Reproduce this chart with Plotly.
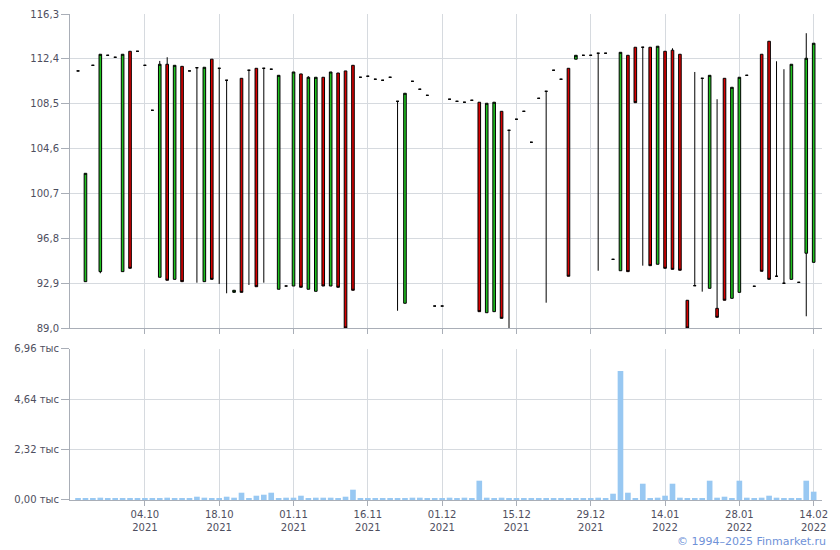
import plotly.graph_objects as go
from datetime import datetime

# ---------------- data ----------------
dates = [
    "2021-09-21", "2021-09-22", "2021-09-23", "2021-09-24", "2021-09-27", "2021-09-28", "2021-09-29", "2021-09-30",
    "2021-10-01", "2021-10-04", "2021-10-05", "2021-10-06", "2021-10-07", "2021-10-08", "2021-10-11", "2021-10-12",
    "2021-10-13", "2021-10-14", "2021-10-15", "2021-10-18", "2021-10-19", "2021-10-20", "2021-10-21", "2021-10-22",
    "2021-10-25", "2021-10-26", "2021-10-27", "2021-10-28", "2021-10-29", "2021-11-01", "2021-11-02", "2021-11-03",
    "2021-11-05", "2021-11-08", "2021-11-09", "2021-11-10", "2021-11-11", "2021-11-12", "2021-11-15", "2021-11-16",
    "2021-11-17", "2021-11-18", "2021-11-19", "2021-11-22", "2021-11-23", "2021-11-24", "2021-11-25", "2021-11-26",
    "2021-11-30", "2021-12-01", "2021-12-02", "2021-12-03", "2021-12-06", "2021-12-07", "2021-12-08", "2021-12-09",
    "2021-12-10", "2021-12-13", "2021-12-14", "2021-12-15", "2021-12-16", "2021-12-17", "2021-12-20", "2021-12-21",
    "2021-12-22", "2021-12-23", "2021-12-24", "2021-12-27", "2021-12-28", "2021-12-29", "2021-12-30", "2022-01-03",
    "2022-01-04", "2022-01-05", "2022-01-06", "2022-01-10", "2022-01-11", "2022-01-12", "2022-01-13", "2022-01-14",
    "2022-01-17", "2022-01-18", "2022-01-19", "2022-01-20", "2022-01-21", "2022-01-24", "2022-01-25", "2022-01-26",
    "2022-01-27", "2022-01-28", "2022-01-31", "2022-02-01", "2022-02-02", "2022-02-03", "2022-02-04", "2022-02-07",
    "2022-02-08", "2022-02-10", "2022-02-11", "2022-02-14",
]

open_ = [
    111.35, 93.03, 111.84, 93.90, 112.71, 112.54, 93.90, 113.06, 113.06, 111.84,
    107.93, 93.41, 111.93, 93.23, 111.75, 111.35, 111.63, 93.03, 112.37, 111.58,
    110.54, 92.10, 110.71, 111.41, 111.58, 111.58, 111.50, 92.37, 92.65, 92.65,
    111.09, 92.37, 92.19, 110.80, 92.65, 111.17, 111.35, 111.84, 110.80, 110.89,
    110.63, 110.54, 110.80, 108.71, 91.15, 110.45, 109.76, 109.23, 90.91, 90.91,
    108.89, 108.71, 108.63, 108.80, 108.63, 90.33, 90.42, 107.84, 106.19, 107.15,
    107.84, 105.15, 108.97, 109.58, 111.41, 110.63, 111.58, 112.37, 112.71, 112.71,
    112.89, 112.89, 94.97, 93.98, 112.71, 113.41, 113.41, 113.41, 94.54, 113.06,
    113.15, 112.80, 91.41, 92.68, 110.71, 92.45, 90.71, 110.71, 91.58, 92.10,
    110.97, 92.63, 112.80, 113.93, 93.50, 92.89, 93.23, 92.97, 95.50, 94.71,
]
high = [
    111.35, 102.45, 111.84, 112.80, 112.71, 112.54, 112.80, 113.06, 113.06, 111.84,
    107.93, 112.22, 112.54, 111.84, 111.75, 111.35, 111.63, 111.67, 112.37, 111.58,
    110.54, 92.28, 110.71, 111.41, 111.58, 111.58, 111.50, 110.97, 92.65, 111.26,
    111.09, 110.89, 110.80, 110.80, 111.26, 111.17, 111.35, 111.84, 110.80, 110.89,
    110.63, 110.54, 110.80, 108.71, 109.41, 110.45, 109.76, 109.23, 90.91, 90.91,
    108.89, 108.71, 108.63, 108.80, 108.63, 108.54, 108.63, 107.84, 106.19, 107.15,
    107.84, 105.15, 108.97, 109.58, 111.41, 110.63, 111.58, 112.71, 112.71, 112.71,
    112.89, 112.89, 94.97, 112.97, 112.71, 113.41, 113.41, 113.41, 113.50, 113.06,
    113.32, 112.80, 91.41, 111.26, 110.71, 110.97, 108.89, 110.71, 109.93, 110.80,
    110.97, 92.63, 112.80, 113.93, 112.19, 111.50, 111.93, 92.97, 114.63, 113.76,
]
low = [
    111.35, 93.03, 111.84, 93.76, 112.71, 112.54, 93.90, 94.19, 113.06, 111.84,
    107.93, 93.41, 93.15, 93.23, 93.03, 111.35, 92.94, 93.03, 93.23, 92.83,
    92.02, 92.10, 92.10, 92.74, 92.59, 92.94, 111.50, 92.37, 92.65, 92.65,
    92.54, 92.37, 92.19, 92.65, 92.65, 92.54, 89.00, 92.28, 110.80, 110.89,
    110.63, 110.54, 110.80, 90.50, 91.15, 110.45, 109.76, 109.23, 90.91, 90.91,
    108.89, 108.71, 108.63, 108.80, 90.42, 90.33, 90.42, 89.84, 89.00, 107.15,
    107.84, 105.15, 108.97, 91.20, 111.41, 110.63, 93.50, 112.37, 112.71, 112.71,
    93.98, 112.89, 94.97, 93.98, 93.90, 108.59, 94.42, 94.42, 94.54, 94.19,
    94.10, 94.02, 89.00, 92.68, 92.16, 92.45, 89.93, 91.41, 91.58, 92.10,
    110.97, 92.63, 93.93, 93.23, 93.50, 92.89, 93.23, 92.97, 90.02, 94.71,
]
close = [
    111.35, 102.45, 111.84, 112.80, 112.71, 112.54, 112.80, 94.19, 113.06, 111.84,
    107.93, 111.93, 93.15, 111.84, 93.03, 111.35, 111.63, 111.67, 93.23, 111.58,
    110.54, 92.28, 92.10, 111.41, 92.59, 111.58, 111.50, 110.97, 92.65, 111.26,
    92.54, 110.80, 110.80, 92.65, 111.26, 92.54, 89.00, 92.28, 110.80, 110.89,
    110.63, 110.54, 110.80, 108.71, 109.41, 110.45, 109.76, 109.23, 90.91, 90.91,
    108.89, 108.71, 108.63, 108.80, 90.42, 108.54, 108.63, 89.84, 106.19, 107.15,
    107.84, 105.15, 108.97, 109.58, 111.41, 110.63, 93.50, 112.71, 112.71, 112.71,
    112.89, 112.89, 94.97, 112.97, 93.90, 108.59, 113.41, 94.42, 113.50, 94.19,
    94.10, 94.02, 89.00, 92.68, 110.71, 110.97, 89.93, 91.41, 109.93, 110.80,
    110.97, 92.63, 93.93, 93.23, 93.50, 92.89, 111.93, 92.97, 112.45, 113.76,
]
volume = [
    60, 60, 60, 106, 60, 60, 60, 60, 60, 60,
    60, 60, 106, 60, 60, 60, 152, 106, 60, 60,
    152, 106, 336, 60, 198, 244, 336, 60, 106, 106,
    198, 60, 106, 106, 106, 60, 152, 475, 60, 60,
    60, 60, 60, 60, 60, 106, 106, 60, 60, 60,
    106, 60, 106, 60, 890, 106, 60, 106, 60, 60,
    60, 60, 60, 60, 60, 60, 60, 60, 60, 60,
    106, 60, 290, 5950, 336, 60, 751, 60, 106, 198,
    751, 106, 60, 60, 60, 890, 106, 152, 60, 890,
    106, 60, 106, 198, 106, 60, 60, 60, 890, 383,
]

price_ticks = [89.0, 92.9, 96.8, 100.7, 104.6, 108.5, 112.4, 116.3]
volume_ticks = [0, 2320, 4640, 6960]
volume_tick_labels = ["0,00 тыс", "2,32 тыс", "4,64 тыс", "6,96 тыс"]
x_tick_dates = ["2021-10-04", "2021-10-18", "2021-11-01", "2021-11-16", "2021-12-01",
                "2021-12-15", "2021-12-29", "2022-01-14", "2022-01-28", "2022-02-14"]
x_tick_labels = [datetime.strptime(d, "%Y-%m-%d").strftime("%d.%m<br>%Y") for d in x_tick_dates]

# ---------------- styling ----------------
GRID = "#d6dadf"
AXIS = "#a9aeb7"
TXT = "#4e4e5e"
FONT = "DejaVu Sans"

fig = go.Figure()

fig.add_trace(go.Candlestick(
    x=dates, open=open_, high=high, low=low, close=close,
    xaxis="x", yaxis="y",
    increasing=dict(fillcolor="#1fc01f", line=dict(color="#000000", width=1)),
    decreasing=dict(fillcolor="#d80000", line=dict(color="#000000", width=1)),
    whiskerwidth=0,
    showlegend=False,
))

fig.add_trace(go.Bar(
    x=dates, y=volume, xaxis="x2", yaxis="y2",
    marker=dict(color="#98c8f2", line=dict(width=0)),
    width=0.76,
    showlegend=False,
))

xrange = [-1.08, len(dates) + 0.12]
common_x = dict(
    type="category", categoryorder="array", categoryarray=dates,
    range=xrange, showgrid=True, gridcolor=GRID, gridwidth=1,
    tickvals=x_tick_dates, showline=True, linecolor=AXIS, linewidth=1,
    ticks="outside", ticklen=5, tickcolor=AXIS, zeroline=False,
    fixedrange=True, automargin=False,
)

# the page body keeps an 8 px margin, so the figure is 8 px smaller and
# its margins are reduced on the left/top to land on the reference layout
fig.update_layout(
    width=832, height=542,
    margin=dict(l=62, r=18, t=6, b=50, pad=0),
    autosize=False,
    paper_bgcolor="white", plot_bgcolor="white",
    separators=", ",
    font=dict(family=FONT, size=10, color=TXT),
    boxgap=0.5,
    bargap=0.2,
    xaxis=dict(**common_x, domain=[0, 1], anchor="y", showticklabels=False,
               rangeslider=dict(visible=False)),
    yaxis=dict(domain=[0.3539, 1], range=[89.0, 116.3], tickvals=price_ticks,
               tickformat=".1f", showgrid=True, gridcolor=GRID, showline=True,
               linecolor=AXIS, ticks="outside", ticklen=8, tickcolor=AXIS,
               zeroline=False, automargin=False,
               tickfont=dict(family=FONT, size=10, color=TXT)),
    xaxis2=dict(**common_x, domain=[0, 1], anchor="y2", showticklabels=True,
                ticktext=x_tick_labels, tickfont=dict(family=FONT, size=10, color=TXT)),
    yaxis2=dict(domain=[0, 0.3107], range=[0, 6960], tickvals=volume_ticks,
                ticktext=volume_tick_labels, showgrid=True, gridcolor=GRID,
                showline=True, linecolor=AXIS, ticks="outside", ticklen=8,
                tickcolor=AXIS, zeroline=False, automargin=False,
                tickfont=dict(family=FONT, size=10, color=TXT)),
    annotations=[dict(
        text="© 1994–2025 Finmarket.ru", xref="paper", yref="paper",
        x=1.008, y=-0.0864, xanchor="right", yanchor="middle", showarrow=False,
        font=dict(family=FONT, size=11, color="#6f92d8"),
    )],
)

fig.write_html("out.html")
